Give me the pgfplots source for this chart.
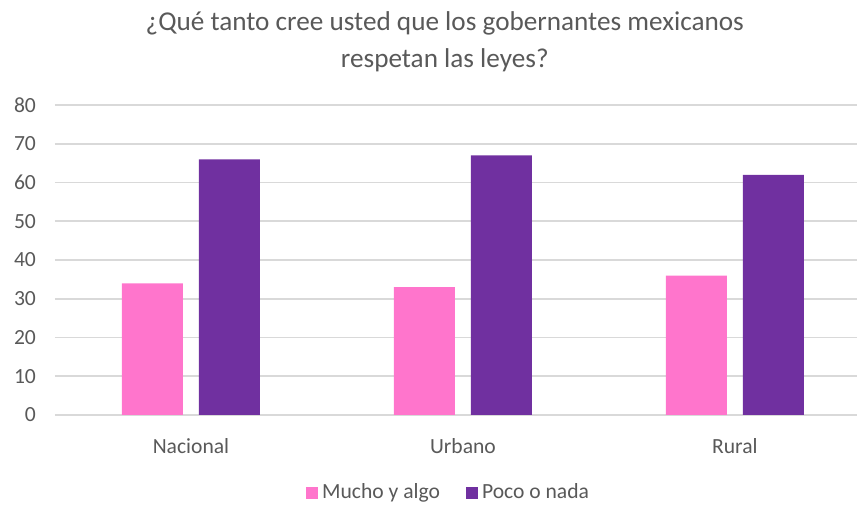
\documentclass[border=0pt]{standalone}
\usepackage{fontspec}
\setmainfont{Carlito}
\usepackage{pgfplots}
\pgfplotsset{compat=1.18}
\definecolor{rosa}{HTML}{FF75CC}
\definecolor{morado}{HTML}{7030A0}
\definecolor{texto}{HTML}{595959}
\definecolor{rejilla}{HTML}{D9D9D9}
\begin{document}
\begin{tikzpicture}
\begin{axis}[
    name=ax,
    scale only axis,
    width=401pt, height=155pt,
    ybar=8pt, bar width=30.5pt,
    xmin=-0.5, xmax=2.449,
    ymin=0, ymax=80,
    ytick={0,10,...,80},
    xtick=data,
    xticklabels={Nacional,Urbano,Rural},
    major tick length=0pt,
    axis x line*=bottom,
    axis y line*=left,
    x axis line style={rejilla, line width=0.8pt, -},
    y axis line style={draw=none},
    ymajorgrids,
    grid style={rejilla, line width=0.8pt},
    /pgf/number format/assume math mode=true,
    ticklabel style={font=\fontsize{10.8}{13}\selectfont, text=texto},
    yticklabel style={xshift=-6pt},
    xticklabel style={yshift=-8pt},
    every axis title/.style={at={(0.486,1.205)}, anchor=center, align=center,
        font=\fontsize{13.6}{18.5}\selectfont, text=texto},
    title={¿Qué tanto cree usted que los gobernantes mexicanos\\respetan las leyes?},
    legend style={at={(0.492,-0.2516)}, anchor=center, draw=none,
        legend columns=2, font=\fontsize{10.8}{13}\selectfont, text=texto,
        /tikz/every even column/.append style={column sep=11pt}},
    legend image code/.code={\fill[#1] (0pt,-3pt) rectangle (6pt,3pt);},
]
\addplot[fill=rosa, draw=none] coordinates {(0,34) (1,33) (2,36)};
\addplot[fill=morado, draw=none] coordinates {(0,66) (1,67) (2,62)};
\legend{Mucho y algo, Poco o nada}
\end{axis}
\path (ax.south west) ++(-27.5pt,-45.5pt) rectangle ++(430pt,253pt);
\end{tikzpicture}
\end{document}
